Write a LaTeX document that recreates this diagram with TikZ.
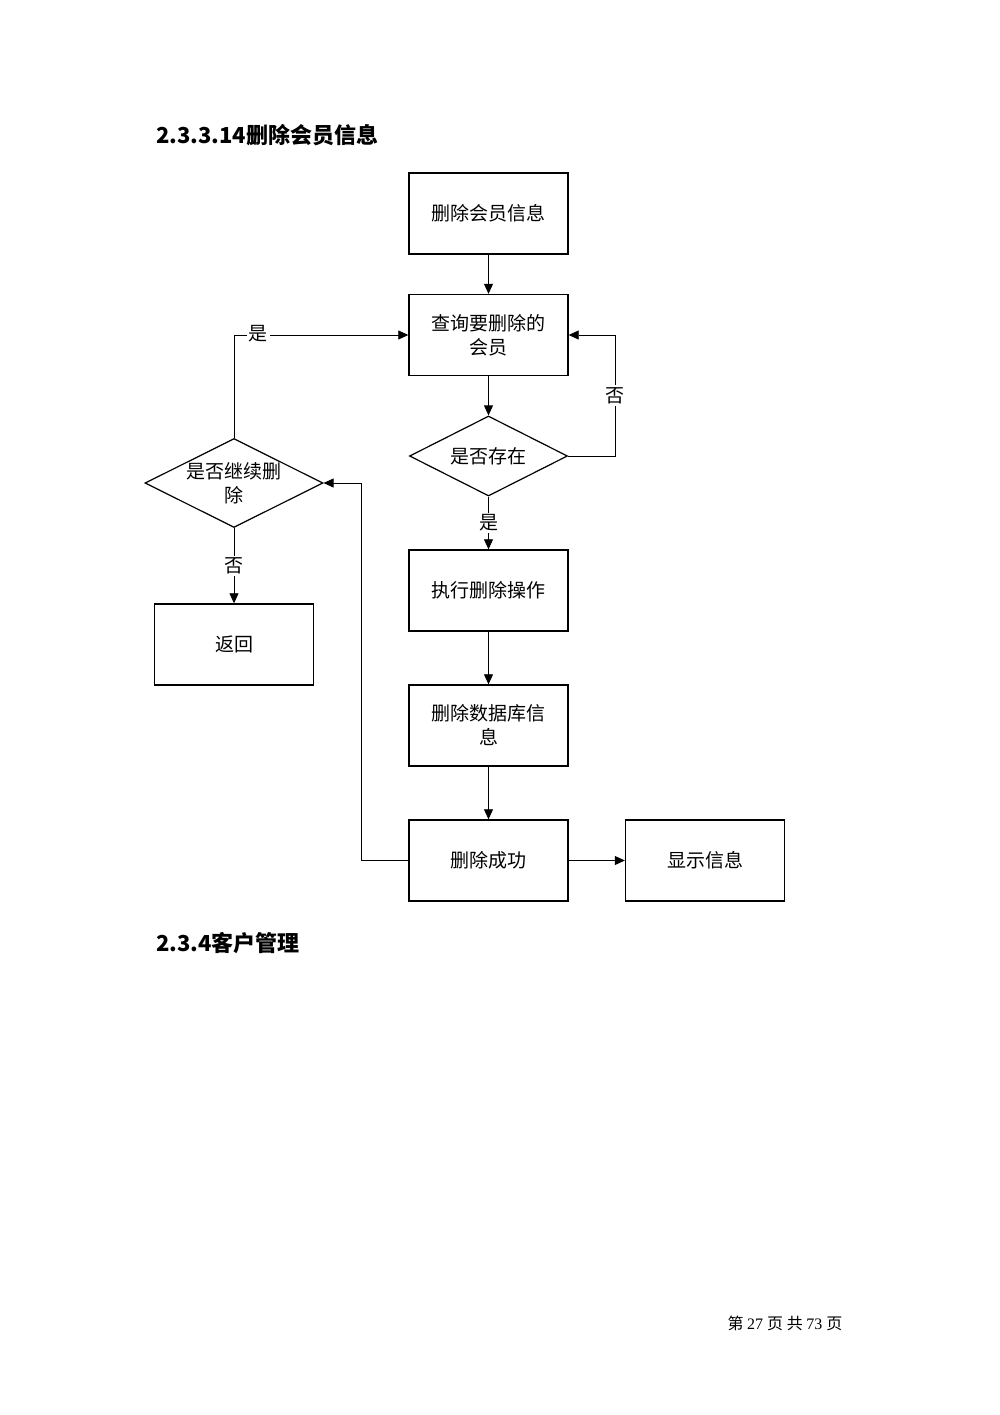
\documentclass[tikz,border=0pt]{standalone}
\usepackage{fontspec}
\setmainfont{Liberation Serif}
\newfontfamily\cjk{Noto Sans CJK SC}
\usetikzlibrary{shapes.geometric,arrows.meta}
\begin{document}
\begin{tikzpicture}[x=0.5pt,y=-0.5pt,
  box/.style={draw,line width=0.7pt,minimum width=79.5pt,minimum height=40.5pt,align=center,font=\cjk\fontsize{9.5}{12}\selectfont,inner sep=0pt},
  dia/.style={draw,line width=0.6pt,diamond,aspect=2,minimum width=79pt,minimum height=40pt,align=center,font=\cjk\fontsize{9.5}{12}\selectfont,inner sep=0pt},
  arr/.style={line width=0.4pt,-{Triangle[length=5pt,width=4.5pt]}},
  lbl/.style={font=\cjk\fontsize{9.5}{12}\selectfont,fill=white,inner sep=1pt}]
\useasboundingbox (0,0) rectangle (1000,1415);
\node[anchor=west,font=\cjk\bfseries\fontsize{11}{13}\selectfont] (h1) at (149,135) {2.3.3.14删除会员信息};
\node[anchor=west,font=\cjk\bfseries\fontsize{11}{13}\selectfont] (h2) at (149,943) {2.3.4客户管理};
\node[font=\fontsize{8}{10}\selectfont] (ft) at (785,1323) {\cjk 第\ \normalfont 27 \cjk 页\ 共\ \normalfont 73 \cjk 页};
\node[box] (A) at (488.5,213.5) {删除会员信息};
\node[box] (B) at (488.5,335) {查询要删除的\\会员};
\node[dia] (C) at (488.5,456) {是否存在};
\node[box] (D) at (488.5,590.5) {执行删除操作};
\node[box] (E) at (488.5,725.5) {删除数据库信\\息};
\node[box] (F) at (488.5,860.5) {删除成功};
\node[box] (G) at (705,860.5) {显示信息};
\node[dia] (H) at (234,483) {是否继续删\\除};
\node[box] (I) at (234,644.5) {返回};
\coordinate (c1) at (615,456);
\coordinate (c2) at (615,335);
\coordinate (f1) at (361,860.5);
\coordinate (f2) at (361,483);
\coordinate (h1c) at (234,335);
\draw[arr] (A) -- (B);
\draw[arr] (B) -- (C);
\draw[arr] (C) -- node[lbl,pos=0.5]{是} (D);
\draw[arr] (D) -- (E);
\draw[arr] (E) -- (F);
\draw[arr] (F) -- (G);
\draw[arr] (C.east) -- (c1) -- node[lbl,pos=0.5]{否} (c2) -- (B.east);
\draw[arr] (F.west) -- (f1) -- (f2) -- (H.east);
\draw[arr] (H.north) -- (h1c) -- (B.west);
\node[lbl] at (258,334) {是};
\draw[arr] (H.south) -- node[lbl,pos=0.5]{否} (I);
\end{tikzpicture}
\end{document}
